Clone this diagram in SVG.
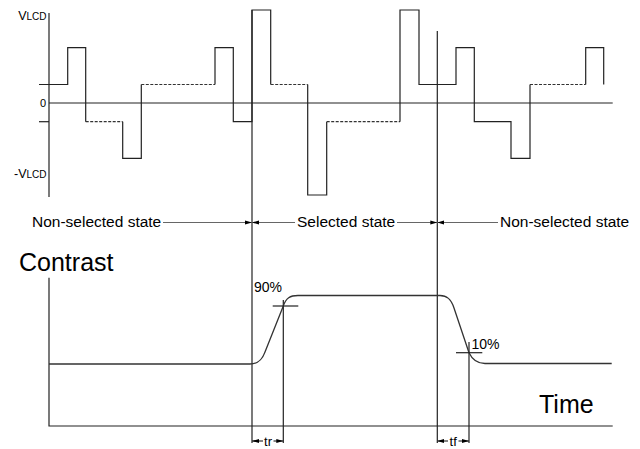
<svg xmlns="http://www.w3.org/2000/svg" width="640" height="449" viewBox="0 0 640 449">
<defs>
<style>
text{font-family:"Liberation Sans",Arial,sans-serif;fill:#000}
.ln{fill:none;stroke:#222;stroke-width:1.2}
.dash{fill:none;stroke:#333;stroke-width:1.2;stroke-dasharray:3 1.5}
.st{fill:none;stroke:#666;stroke-width:1.2}
.dm{fill:none;stroke:#333;stroke-width:1.2}
.cv{fill:none;stroke:#333;stroke-width:1.3}
.lbl{font-size:15.5px}
.big{font-size:25px}
.pct{font-size:14px}
.sm{font-size:13px}
</style>
<marker id="ah" markerUnits="userSpaceOnUse" markerWidth="9" markerHeight="6" refX="7" refY="2.5" orient="auto">
<path d="M0,0.5 L7,2.5 L0,4.5 z" fill="#000"/>
</marker>
</defs>
<rect width="640" height="449" fill="#fff"/>

<g id="axes">
<path class="ln" d="M49,13 V197"/>
<path class="ln" d="M49,103 H612.7"/>
<path class="ln" d="M39,121.7 H49"/>
<path class="ln" d="M49,277.7 V426 H612.7"/>
</g>

<g id="axis-labels">
<text x="46.5" y="20" text-anchor="end"><tspan font-size="12.5">V</tspan><tspan font-size="10">LCD</tspan></text>
<text x="46" y="107" text-anchor="end" font-size="11">0</text>
<text x="46.5" y="178" text-anchor="end"><tspan font-size="12.5">-V</tspan><tspan font-size="10">LCD</tspan></text>
<text class="big" x="19" y="271">Contrast</text>
<text class="big" x="539" y="413">Time</text>
</g>

<g id="waveform">
<path class="ln" d="M39,84.5 H67.7 V47.7 H85.7 V121.7"/>
<path class="dash" d="M85.7,121.7 H122.7"/>
<path class="ln" d="M122.7,121.7 V158.3 H141.3 V84.5"/>
<path class="dash" d="M141.3,84.5 H215"/>
<path class="ln" d="M215,84.5 V47.7 H233.3 V121.7 H252 V10 H270.7 V84.5"/>
<path class="dash" d="M270.7,84.5 H307.7"/>
<path class="ln" d="M307.7,84.5 V195 H326.7 V121.7"/>
<path class="dash" d="M326.7,121.7 H400"/>
<path class="ln" d="M400,121.7 V10 H419 V84.5 H456 V47.7 H474.3 V121.7 H511 V158.3 H530 V84.5"/>
<path class="dash" d="M530,84.5 H585.7"/>
<path class="ln" d="M585.7,84.5 V47.7 H603.7 V84.5"/>
</g>

<g id="separators">
<path class="ln" d="M252,10 V443"/>
<path class="ln" d="M437.3,31 V443"/>
<path class="ln" d="M283.3,300 V443"/>
<path class="ln" d="M469,342 V443"/>
</g>

<g id="states">
<text class="lbl" x="32" y="227">Non-selected state</text>
<text class="lbl" x="297" y="227">Selected state</text>
<text class="lbl" x="500" y="227">Non-selected state</text>
</g>

<g id="connectors">
<line class="st" x1="163" y1="222.5" x2="252" y2="222.5" marker-end="url(#ah)"/>
<line class="st" x1="295" y1="222.5" x2="252" y2="222.5" marker-end="url(#ah)"/>
<line class="st" x1="397" y1="222.5" x2="437.3" y2="222.5" marker-end="url(#ah)"/>
<line class="st" x1="498" y1="222.5" x2="437.3" y2="222.5" marker-end="url(#ah)"/>
<line class="dm" x1="263" y1="441" x2="252" y2="441" marker-end="url(#ah)"/>
<line class="dm" x1="273.5" y1="441" x2="283.3" y2="441" marker-end="url(#ah)"/>
<line class="dm" x1="448" y1="441" x2="437.3" y2="441" marker-end="url(#ah)"/>
<line class="dm" x1="458.5" y1="441" x2="469" y2="441" marker-end="url(#ah)"/>
</g>

<g id="contrast-curve">
<path class="cv" d="M49,364 L250,364 C258,364 262,360 265,352 L283.3,306 C286,298 290,295.5 298,295.5 L440,295.5 C447,295.5 451,299 454,308 L469,352.7 C472,359 476,363.5 485,363.5 L611.7,363.5"/>
<path class="ln" d="M272.7,306 H298.3"/>
<path class="ln" d="M456,352.7 H482.3"/>
<text class="pct" x="254" y="292">90%</text>
<text class="pct" x="471.5" y="349">10%</text>
<text class="sm" x="268" y="446" text-anchor="middle">tr</text>
<text class="sm" x="453.2" y="446" text-anchor="middle">tf</text>
</g>
</svg>
